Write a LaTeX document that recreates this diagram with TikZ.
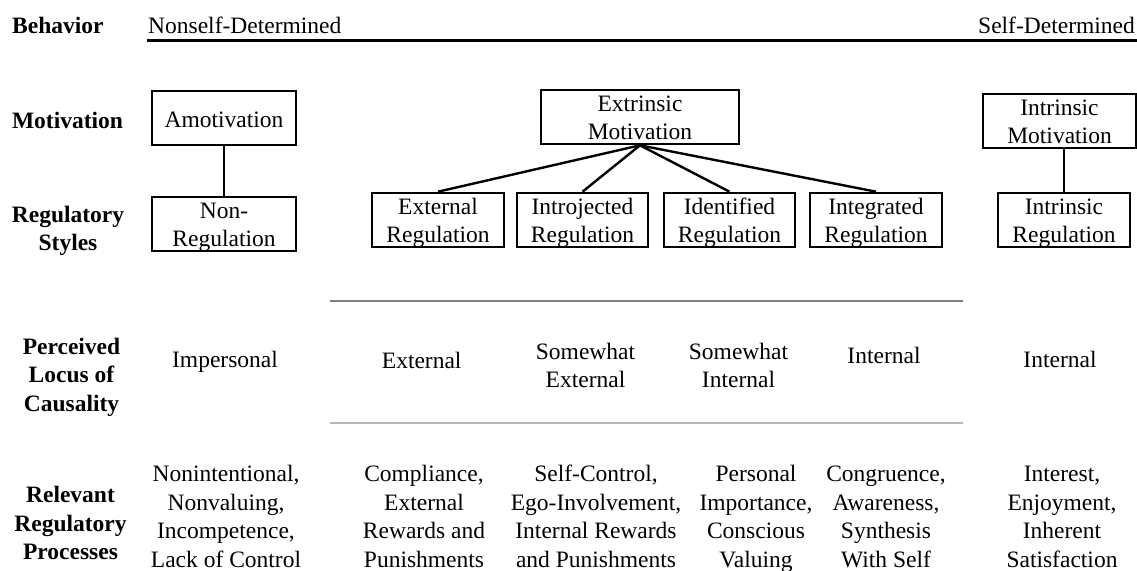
\documentclass[tikz,border=0pt]{standalone}
\usepackage{fontspec}
\setmainfont{Liberation Serif}
\begin{document}
\begin{tikzpicture}[x=1pt,y=-1pt,
  txt/.style={font=\fontsize{23.5}{28.5}\selectfont, align=center, inner sep=0pt},
  lab/.style={txt, font=\fontsize{23.5}{28.5}\selectfont\bfseries},
  mbox/.style={txt, draw, line width=2.6pt, minimum height=54pt,
               text height=49.5pt, text depth=4.5pt},
  conn/.style={line width=2.4pt},
  rule/.style={line width=3pt},
  divider/.style={line width=1.3pt, draw=black!50},
  divider2/.style={line width=1.5pt, draw=black!28}]
\fill[white] (0,0) rectangle (1137,570);
\useasboundingbox (0,0) rectangle (1137,570);

% header: scale from nonself-determined to self-determined
\node[lab, anchor=base west] (behav) at (12,33) {Behavior};
\node[txt, anchor=base west] (nsd) at (148,33) {Nonself-Determined};
\node[txt, anchor=base east] (sd) at (1135,33) {Self-Determined};
\coordinate (ruleL) at (147,40);
\coordinate (ruleR) at (1137,40);
\draw[rule] (ruleL) -- (ruleR);

% row labels (anchored on the baseline of the last line)
\node[lab, anchor=base] (lmot) at (67.5,128) {Motivation};
\node[lab, anchor=base] (lreg) at (68,250.5) {Regulatory\\Styles};
\node[lab, anchor=base] (lloc) at (71.5,411) {Perceived\\Locus of\\Causality};
\node[lab, anchor=base] (lproc) at (70.5,559.7) {Relevant\\Regulatory\\Processes};

% motivation boxes
\node[mbox, minimum width=144pt, text height=36pt, text depth=18pt] (amot) at (224,118) {Amotivation};
\node[mbox, minimum width=198pt] (extr) at (640,117) {Extrinsic\\Motivation};
\node[mbox, minimum width=153pt] (intmot) at (1059.5,121) {Intrinsic\\Motivation};

% regulatory style boxes
\node[mbox, minimum width=144pt] (nonreg) at (224,224) {Non-\\Regulation};
\node[mbox, minimum width=132pt] (extreg) at (438,220) {External\\Regulation};
\node[mbox, minimum width=131pt] (introreg) at (582.5,220) {Introjected\\Regulation};
\node[mbox, minimum width=131pt] (identreg) at (729.5,220) {Identified\\Regulation};
\node[mbox, minimum width=132pt] (integreg) at (876,220) {Integrated\\Regulation};
\node[mbox, minimum width=132pt] (intreg) at (1064,220) {Intrinsic\\Regulation};

% links between motivation and regulation
\draw[conn] (amot.south) -- (nonreg.north);
\foreach \r in {extreg,introreg,identreg,integreg}
  \draw[conn] (extr.south) -- (\r.north);
\draw[conn] (intreg.north) -- (intreg.north |- intmot.south);

% dividers around the extrinsic locus row
\coordinate (d1L) at (330,301);
\coordinate (d1R) at (963,301);
\coordinate (d2L) at (330,423);
\coordinate (d2R) at (963,423);
\draw[divider] (d1L) -- (d1R);
\draw[divider2] (d2L) -- (d2R);

% perceived locus of causality
\node[txt, anchor=base] (loc1) at (225,367) {Impersonal};
\node[txt, anchor=base] (loc2) at (421.7,368) {External};
\node[txt, anchor=base] (loc3) at (585.5,387.5) {Somewhat\\External};
\node[txt, anchor=base] (loc4) at (738.5,387.5) {Somewhat\\Internal};
\node[txt, anchor=base] (loc5) at (884,363) {Internal};
\node[txt, anchor=base] (loc6) at (1060,367) {Internal};

% relevant regulatory processes
\node[txt, anchor=base] (pr1) at (226,567.2) {Nonintentional,\\Nonvaluing,\\Incompetence,\\Lack of Control};
\node[txt, anchor=base] (pr2) at (424,567.2) {Compliance,\\External\\Rewards and\\Punishments};
\node[txt, anchor=base] (pr3) at (596,567.2) {Self-Control,\\Ego-Involvement,\\Internal Rewards\\and Punishments};
\node[txt, anchor=base] (pr4) at (756,567.2) {Personal\\Importance,\\Conscious\\Valuing};
\node[txt, anchor=base] (pr5) at (886,567.2) {Congruence,\\Awareness,\\Synthesis\\With Self};
\node[txt, anchor=base] (pr6) at (1062,567.2) {Interest,\\Enjoyment,\\Inherent\\Satisfaction};
\end{tikzpicture}
\end{document}
